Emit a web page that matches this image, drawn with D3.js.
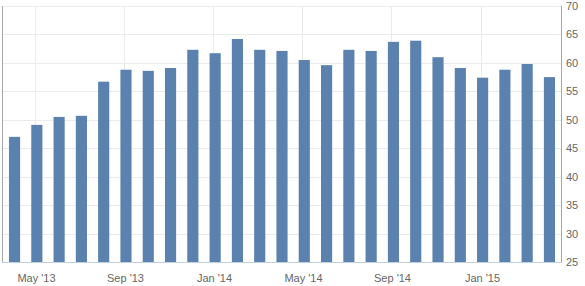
<!DOCTYPE html>
<html>
<head>
<meta charset="utf-8">
<script src="https://cdn.jsdelivr.net/npm/d3@7"></script>
<style>
body { margin: 0; background: #fff; }
svg { display: block; font-family: "Liberation Sans", Arial, sans-serif; }
</style>
</head>
<body>
<svg id="chart" width="585" height="286"></svg>
<script>
// monthly readings, Apr 2013 .. Apr 2015
var months = ["2013-04","2013-05","2013-06","2013-07","2013-08","2013-09","2013-10","2013-11","2013-12",
    "2014-01","2014-02","2014-03","2014-04","2014-05","2014-06","2014-07","2014-08","2014-09","2014-10","2014-11","2014-12",
    "2015-01","2015-02","2015-03","2015-04"];
var values = [47.0, 49.1, 50.5, 50.7, 56.7, 58.8, 58.6, 59.1, 62.3,
    61.7, 64.2, 62.3, 62.1, 60.5, 59.6, 62.3, 62.1, 63.7, 63.9, 61.0, 59.1,
    57.4, 58.8, 59.8, 57.5];
var tickMonths = ["2013-05","2013-09","2014-01","2014-05","2014-09","2015-01"];
var tickLabels = ["May '13","Sep '13","Jan '14","May '14","Sep '14","Jan '15"];
var yTicks = [25, 30, 35, 40, 45, 50, 55, 60, 65, 70];

var svg = d3.select("#chart");
const plotLeft = 2, plotRight = 561, plotTop = 6, plotBottom = 262;

var x = d3.scaleBand()
    .domain(months)
    .range([plotLeft + 0.5, plotRight + 0.5])
    .paddingInner(0.5)
    .paddingOuter(0.29);
var y = d3.scaleLinear().domain([25, 70]).range([plotBottom, plotTop]);

// horizontal grid
svg.append("g").selectAll("line")
    .data(yTicks)
    .enter()
    .append("line")
    .attr("x1", plotLeft)
    .attr("x2", plotRight)
    .attr("y1", d => Math.round(y(d)) + 0.5)
    .attr("y2", d => Math.round(y(d)) + 0.5)
    .style("stroke", "#ebebeb")
    .style("stroke-width", 1);

// vertical grid at month ticks (a little left of bar centre)
function tickX(m) { return Math.round(x(m) + x.bandwidth() / 2 - 2) + 0.5; }
svg.append("g").selectAll("line")
    .data(tickMonths)
    .enter()
    .append("line")
    .attr("x1", d => tickX(d))
    .attr("x2", d => tickX(d))
    .attr("y1", plotTop)
    .attr("y2", plotBottom)
    .style("stroke", "#ebebeb")
    .style("stroke-width", 1);

// bars
svg.append("g").selectAll("rect")
    .data(values)
    .enter()
    .append("rect")
    .attr("x", (d, i) => x(months[i]))
    .attr("width", x.bandwidth())
    .attr("y", d => y(d))
    .attr("height", d => plotBottom - y(d))
    .style("fill", "#5b81ae");

// axis lines
svg.append("line")
    .attr("x1", plotLeft + 0.5).attr("x2", plotLeft + 0.5)
    .attr("y1", plotTop).attr("y2", plotBottom)
    .style("stroke", "#a8a8a8");
svg.append("line")
    .attr("x1", plotRight + 0.5).attr("x2", plotRight + 0.5)
    .attr("y1", plotTop).attr("y2", plotBottom + 1)
    .style("stroke", "#a8a8a8");
svg.append("line")
    .attr("x1", plotLeft).attr("x2", plotRight + 1)
    .attr("y1", plotBottom + 0.5).attr("y2", plotBottom + 0.5)
    .style("stroke", "#c0d0e0");

// y labels on the right
svg.append("g").selectAll("text")
    .data(yTicks)
    .enter()
    .append("text")
    .attr("x", 566)
    .attr("y", d => y(d) + 4)
    .style("font-size", "11px")
    .style("fill", "#666")
    .text(d => d);

// x labels
svg.append("g").selectAll("text")
    .data(tickMonths)
    .enter()
    .append("text")
    .attr("x", (d, i) => tickX(d) + 1)
    .attr("y", 282)
    .attr("text-anchor", "middle")
    .style("font-size", "11px")
    .style("fill", "#666")
    .text((d, i) => tickLabels[i]);
</script>
</body>
</html>
